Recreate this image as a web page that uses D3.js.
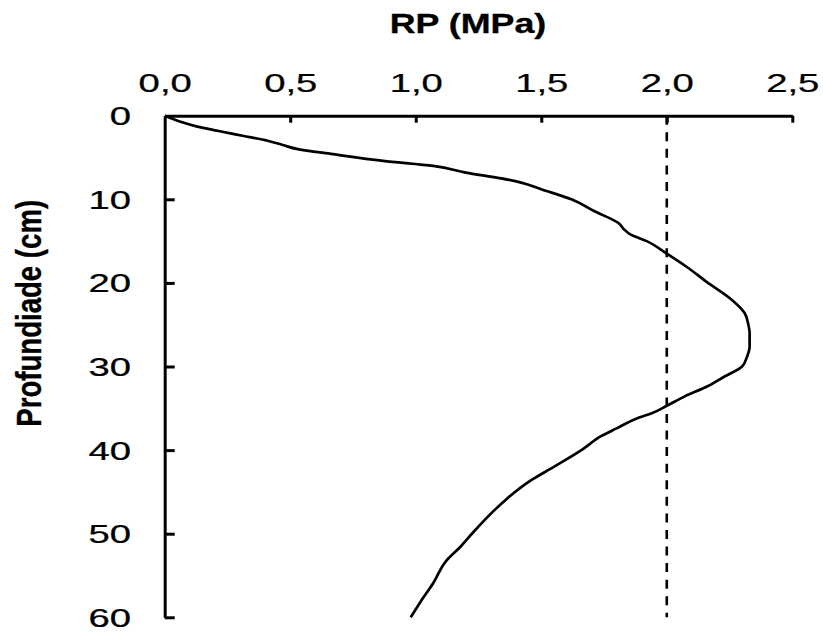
<!DOCTYPE html>
<html>
<head>
<meta charset="utf-8">
<script src="https://cdn.jsdelivr.net/npm/d3@7"></script>
<style>
  html, body { margin: 0; padding: 0; background: #fff; }
  svg { display: block; }
  text { font-family: "Liberation Sans", Arial, sans-serif; fill: #000; }
</style>
</head>
<body>
<svg id="chart" width="823" height="632"></svg>
<script>
// Penetration resistance profile (MPa) by depth (cm)
const depthCm = [0, 0.3, 0.7, 1.3, 1.8, 2.4, 3.0, 3.5, 4.0, 4.6, 5.4, 6.0, 6.8, 7.5, 8.0, 8.8,
  10.0, 11.4, 12.9, 13.6, 14.2, 15.0, 16.5, 18.1, 19.9, 21.8, 23.6, 25.0, 26.0, 27.6, 28.8,
  30.0, 31.2, 32.4, 33.6, 34.7, 35.6, 36.1, 37.4, 38.3, 40.0, 42.0, 43.6, 45.9, 47.0,
  49.8, 51.5, 53.3, 55.9, 58.1, 60.0];
const rpMPa = [0.00, 0.025, 0.06, 0.13, 0.21, 0.31, 0.41, 0.47, 0.53, 0.67, 0.87, 1.07, 1.20, 1.34, 1.42, 1.50,
  1.62, 1.71, 1.81, 1.83, 1.855, 1.92, 2.00, 2.08, 2.16, 2.25, 2.31, 2.325, 2.33, 2.33, 2.32,
  2.30, 2.23, 2.16, 2.07, 2.00, 1.94, 1.89, 1.80, 1.74, 1.66, 1.55, 1.46, 1.36, 1.32,
  1.23, 1.18, 1.12, 1.07, 1.02, 0.98];

const xTicks = [0, 0.5, 1.0, 1.5, 2.0, 2.5];
const yTicks = [0, 10, 20, 30, 40, 50, 60];
const limitMPa = 2.0;

const titleText = "RP (MPa)";
const yTitleText = "Profundiade (cm)";

const svg = d3.select("#chart");

const x = d3.scaleLinear().domain([0, 2.5]).range([164.7, 792.3]);
const y = d3.scaleLinear().domain([0, 60]).range([115.7, 617.3]);

const fmt = v => d3.format(".1f")(v).replace(".", ",");

// top x axis, ticks pointing into the plot
const gx = svg.append("g")
  .attr("transform", `translate(0,${y(0)})`)
  .call(d3.axisTop(x).tickValues(xTicks).tickFormat(fmt).tickSizeInner(-7).tickSizeOuter(0).tickPadding(23.4));

// left y axis, ticks pointing into the plot
const gy = svg.append("g")
  .attr("transform", `translate(${x(0)},0)`)
  .call(d3.axisLeft(y).tickValues(yTicks).tickFormat(d3.format("d")).tickSizeInner(-10).tickSizeOuter(0).tickPadding(33.7));

[gx, gy].forEach(g => {
  g.select(".domain").attr("stroke", "#000").attr("stroke-width", 3);
  g.selectAll(".tick line").attr("stroke", "#000").attr("stroke-width", 3);
  g.selectAll(".tick text")
    .attr("font-size", 25).attr("font-family", null).attr("fill", "#000")
    .attr("stroke", "#000").attr("stroke-width", 0.25);
});
gx.selectAll(".tick").filter(d => d === 0).select("line").remove();
gy.selectAll(".tick").filter(d => d === 0).select("line").remove();

// wide tick labels
gx.selectAll(".tick text").each(function () {
  const t = d3.select(this);
  const ty = +t.attr("y");
  t.attr("y", 0).attr("transform", `translate(0,${ty}) scale(1.53,1)`);
});
gy.selectAll(".tick text").each(function () {
  const t = d3.select(this);
  const tx = +t.attr("x");
  t.attr("x", 0).attr("dy", "0.36em").attr("transform", `translate(${tx},0) scale(1.53,1)`);
});

// reference line at 2.0 MPa
svg.append("line")
  .attr("x1", x(limitMPa)).attr("x2", x(limitMPa))
  .attr("y1", y(0)).attr("y2", y(60))
  .attr("stroke", "#000").attr("stroke-width", 2.6)
  .attr("stroke-dasharray", "9,7.57");

// resistance curve
const pts = depthCm.map((d, i) => [rpMPa[i], d]);
svg.append("path")
  .datum(pts)
  .attr("fill", "none")
  .attr("stroke", "#000")
  .attr("stroke-width", 2.7)
  .attr("stroke-linejoin", "round")
  .attr("d", d3.line().x(p => x(p[0])).y(p => y(p[1])).curve(d3.curveMonotoneY));

// titles
svg.append("text")
  .attr("transform", "translate(468,33.3) scale(1.28,1)")
  .attr("text-anchor", "middle")
  .attr("font-size", 28)
  .attr("font-weight", "bold")
  .attr("stroke", "#000").attr("stroke-width", 0.3)
  .text(titleText);

svg.append("text")
  .attr("transform", "translate(40.5,313.3) scale(1.28,1) rotate(-90)")
  .attr("text-anchor", "middle")
  .attr("font-size", 27.6)
  .attr("font-weight", "bold")
  .attr("stroke", "#000").attr("stroke-width", 0.3)
  .text(yTitleText);
</script>
</body>
</html>
